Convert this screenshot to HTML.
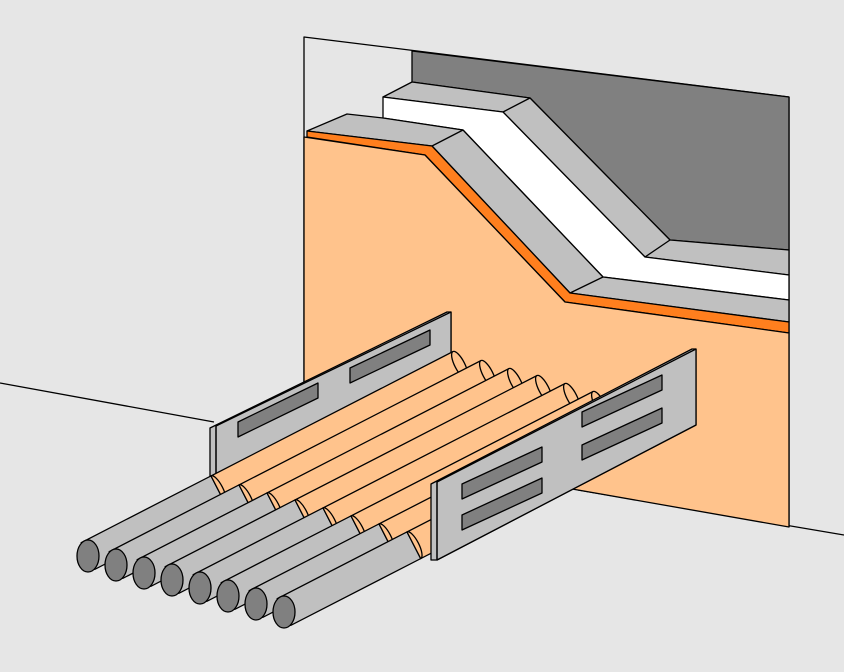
<!DOCTYPE html>
<html><head><style>html,body{margin:0;padding:0;background:#e6e6e6}svg{display:block}</style></head>
<body>
<svg width="844" height="672" viewBox="0 0 844 672" xmlns="http://www.w3.org/2000/svg" stroke="#000" stroke-width="1.3" stroke-linejoin="round">
<rect x="0" y="0" width="844" height="672" fill="#e6e6e6" stroke="none"/>
<line x1="0" y1="383" x2="214" y2="422"/>
<line x1="578" y1="490" x2="844" y2="535"/>
<polyline points="304,440 304,37 789,97 789,527" fill="none"/>
<polygon points="412,51 789,97 789,250 670,240 530,98 412,82" fill="#808080"/>
<polygon points="383,97 412,82 530,98 670,240 789,250 789,275 645,257 503,112" fill="#c0c0c0"/>
<line x1="503" y1="112" x2="530" y2="98"/>
<line x1="645" y1="257" x2="670" y2="240"/>
<polygon points="383,97 503,112 645,257 789,275 789,300 603,277 463,130 383,118" fill="#ffffff"/>
<polygon points="307,131 347,114 383,118 463,130 603,277 789,300 789,322 570,293 432,146" fill="#c0c0c0"/>
<line x1="432" y1="146" x2="463" y2="130"/>
<line x1="570" y1="293" x2="603" y2="277"/>
<polygon points="307,131 432,146 570,293 789,322 789,333 565,302 425,155 307,137" fill="#ff7f1e"/>
<polygon points="304,137 425,155 565,302 789,333 789,527 578,490 304,445" fill="#ffc38c"/>
<polygon points="210,428 447,312 451,312 451,380 216,490 210,490" fill="#c0c0c0"/>
<polygon points="216,426 451,312 451,380 216,490" fill="#c0c0c0"/>
<line x1="216" y1="426" x2="216" y2="490"/>
<polygon points="238,422 318,383 318,398 238,437" fill="#808080"/>
<polygon points="350,368 430,330 430,345 350,383" fill="#808080"/>
<g>
<g transform="translate(88,556) rotate(-27.2)"><rect x="0" y="-15" width="146" height="30" fill="#c0c0c0"/><rect x="146" y="-15" width="272" height="30" fill="#ffc38c"/><ellipse cx="418" cy="0" rx="5" ry="15" fill="#ffc38c"/><path d="M146,-15 A5,15 0 0 1 146,15" fill="none"/><ellipse cx="0" cy="0" rx="11" ry="16" fill="#808080" transform="rotate(27.2)"/></g>
<g transform="translate(116,565) rotate(-27.2)"><rect x="0" y="-15" width="146" height="30" fill="#c0c0c0"/><rect x="146" y="-15" width="272" height="30" fill="#ffc38c"/><ellipse cx="418" cy="0" rx="5" ry="15" fill="#ffc38c"/><path d="M146,-15 A5,15 0 0 1 146,15" fill="none"/><ellipse cx="0" cy="0" rx="11" ry="16" fill="#808080" transform="rotate(27.2)"/></g>
<g transform="translate(144,573) rotate(-27.2)"><rect x="0" y="-15" width="146" height="30" fill="#c0c0c0"/><rect x="146" y="-15" width="272" height="30" fill="#ffc38c"/><ellipse cx="418" cy="0" rx="5" ry="15" fill="#ffc38c"/><path d="M146,-15 A5,15 0 0 1 146,15" fill="none"/><ellipse cx="0" cy="0" rx="11" ry="16" fill="#808080" transform="rotate(27.2)"/></g>
<g transform="translate(172,580) rotate(-27.2)"><rect x="0" y="-15" width="146" height="30" fill="#c0c0c0"/><rect x="146" y="-15" width="272" height="30" fill="#ffc38c"/><ellipse cx="418" cy="0" rx="5" ry="15" fill="#ffc38c"/><path d="M146,-15 A5,15 0 0 1 146,15" fill="none"/><ellipse cx="0" cy="0" rx="11" ry="16" fill="#808080" transform="rotate(27.2)"/></g>
<g transform="translate(200,588) rotate(-27.2)"><rect x="0" y="-15" width="146" height="30" fill="#c0c0c0"/><rect x="146" y="-15" width="272" height="30" fill="#ffc38c"/><ellipse cx="418" cy="0" rx="5" ry="15" fill="#ffc38c"/><path d="M146,-15 A5,15 0 0 1 146,15" fill="none"/><ellipse cx="0" cy="0" rx="11" ry="16" fill="#808080" transform="rotate(27.2)"/></g>
<g transform="translate(228,596) rotate(-27.2)"><rect x="0" y="-15" width="146" height="30" fill="#c0c0c0"/><rect x="146" y="-15" width="272" height="30" fill="#ffc38c"/><ellipse cx="418" cy="0" rx="5" ry="15" fill="#ffc38c"/><path d="M146,-15 A5,15 0 0 1 146,15" fill="none"/><ellipse cx="0" cy="0" rx="11" ry="16" fill="#808080" transform="rotate(27.2)"/></g>
<g transform="translate(256,604) rotate(-27.2)"><rect x="0" y="-15" width="146" height="30" fill="#c0c0c0"/><rect x="146" y="-15" width="272" height="30" fill="#ffc38c"/><ellipse cx="418" cy="0" rx="5" ry="15" fill="#ffc38c"/><path d="M146,-15 A5,15 0 0 1 146,15" fill="none"/><ellipse cx="0" cy="0" rx="11" ry="16" fill="#808080" transform="rotate(27.2)"/></g>
<g transform="translate(284,612) rotate(-27.2)"><rect x="0" y="-15" width="146" height="30" fill="#c0c0c0"/><rect x="146" y="-15" width="272" height="30" fill="#ffc38c"/><ellipse cx="418" cy="0" rx="5" ry="15" fill="#ffc38c"/><path d="M146,-15 A5,15 0 0 1 146,15" fill="none"/><ellipse cx="0" cy="0" rx="11" ry="16" fill="#808080" transform="rotate(27.2)"/></g>
</g>
<polygon points="431,484 692,349 696,349 696,425 437,560 431,560" fill="#c0c0c0"/>
<polygon points="437,482 696,349 696,425 437,560" fill="#c0c0c0"/>
<line x1="437" y1="482" x2="437" y2="560"/>
<polygon points="462,484 542,447 542,462 462,499" fill="#808080"/>
<polygon points="462,515 542,478 542,493 462,530" fill="#808080"/>
<polygon points="582,412 662,375 662,390 582,427" fill="#808080"/>
<polygon points="582,445 662,408 662,423 582,460" fill="#808080"/>
</svg>
</body></html>
